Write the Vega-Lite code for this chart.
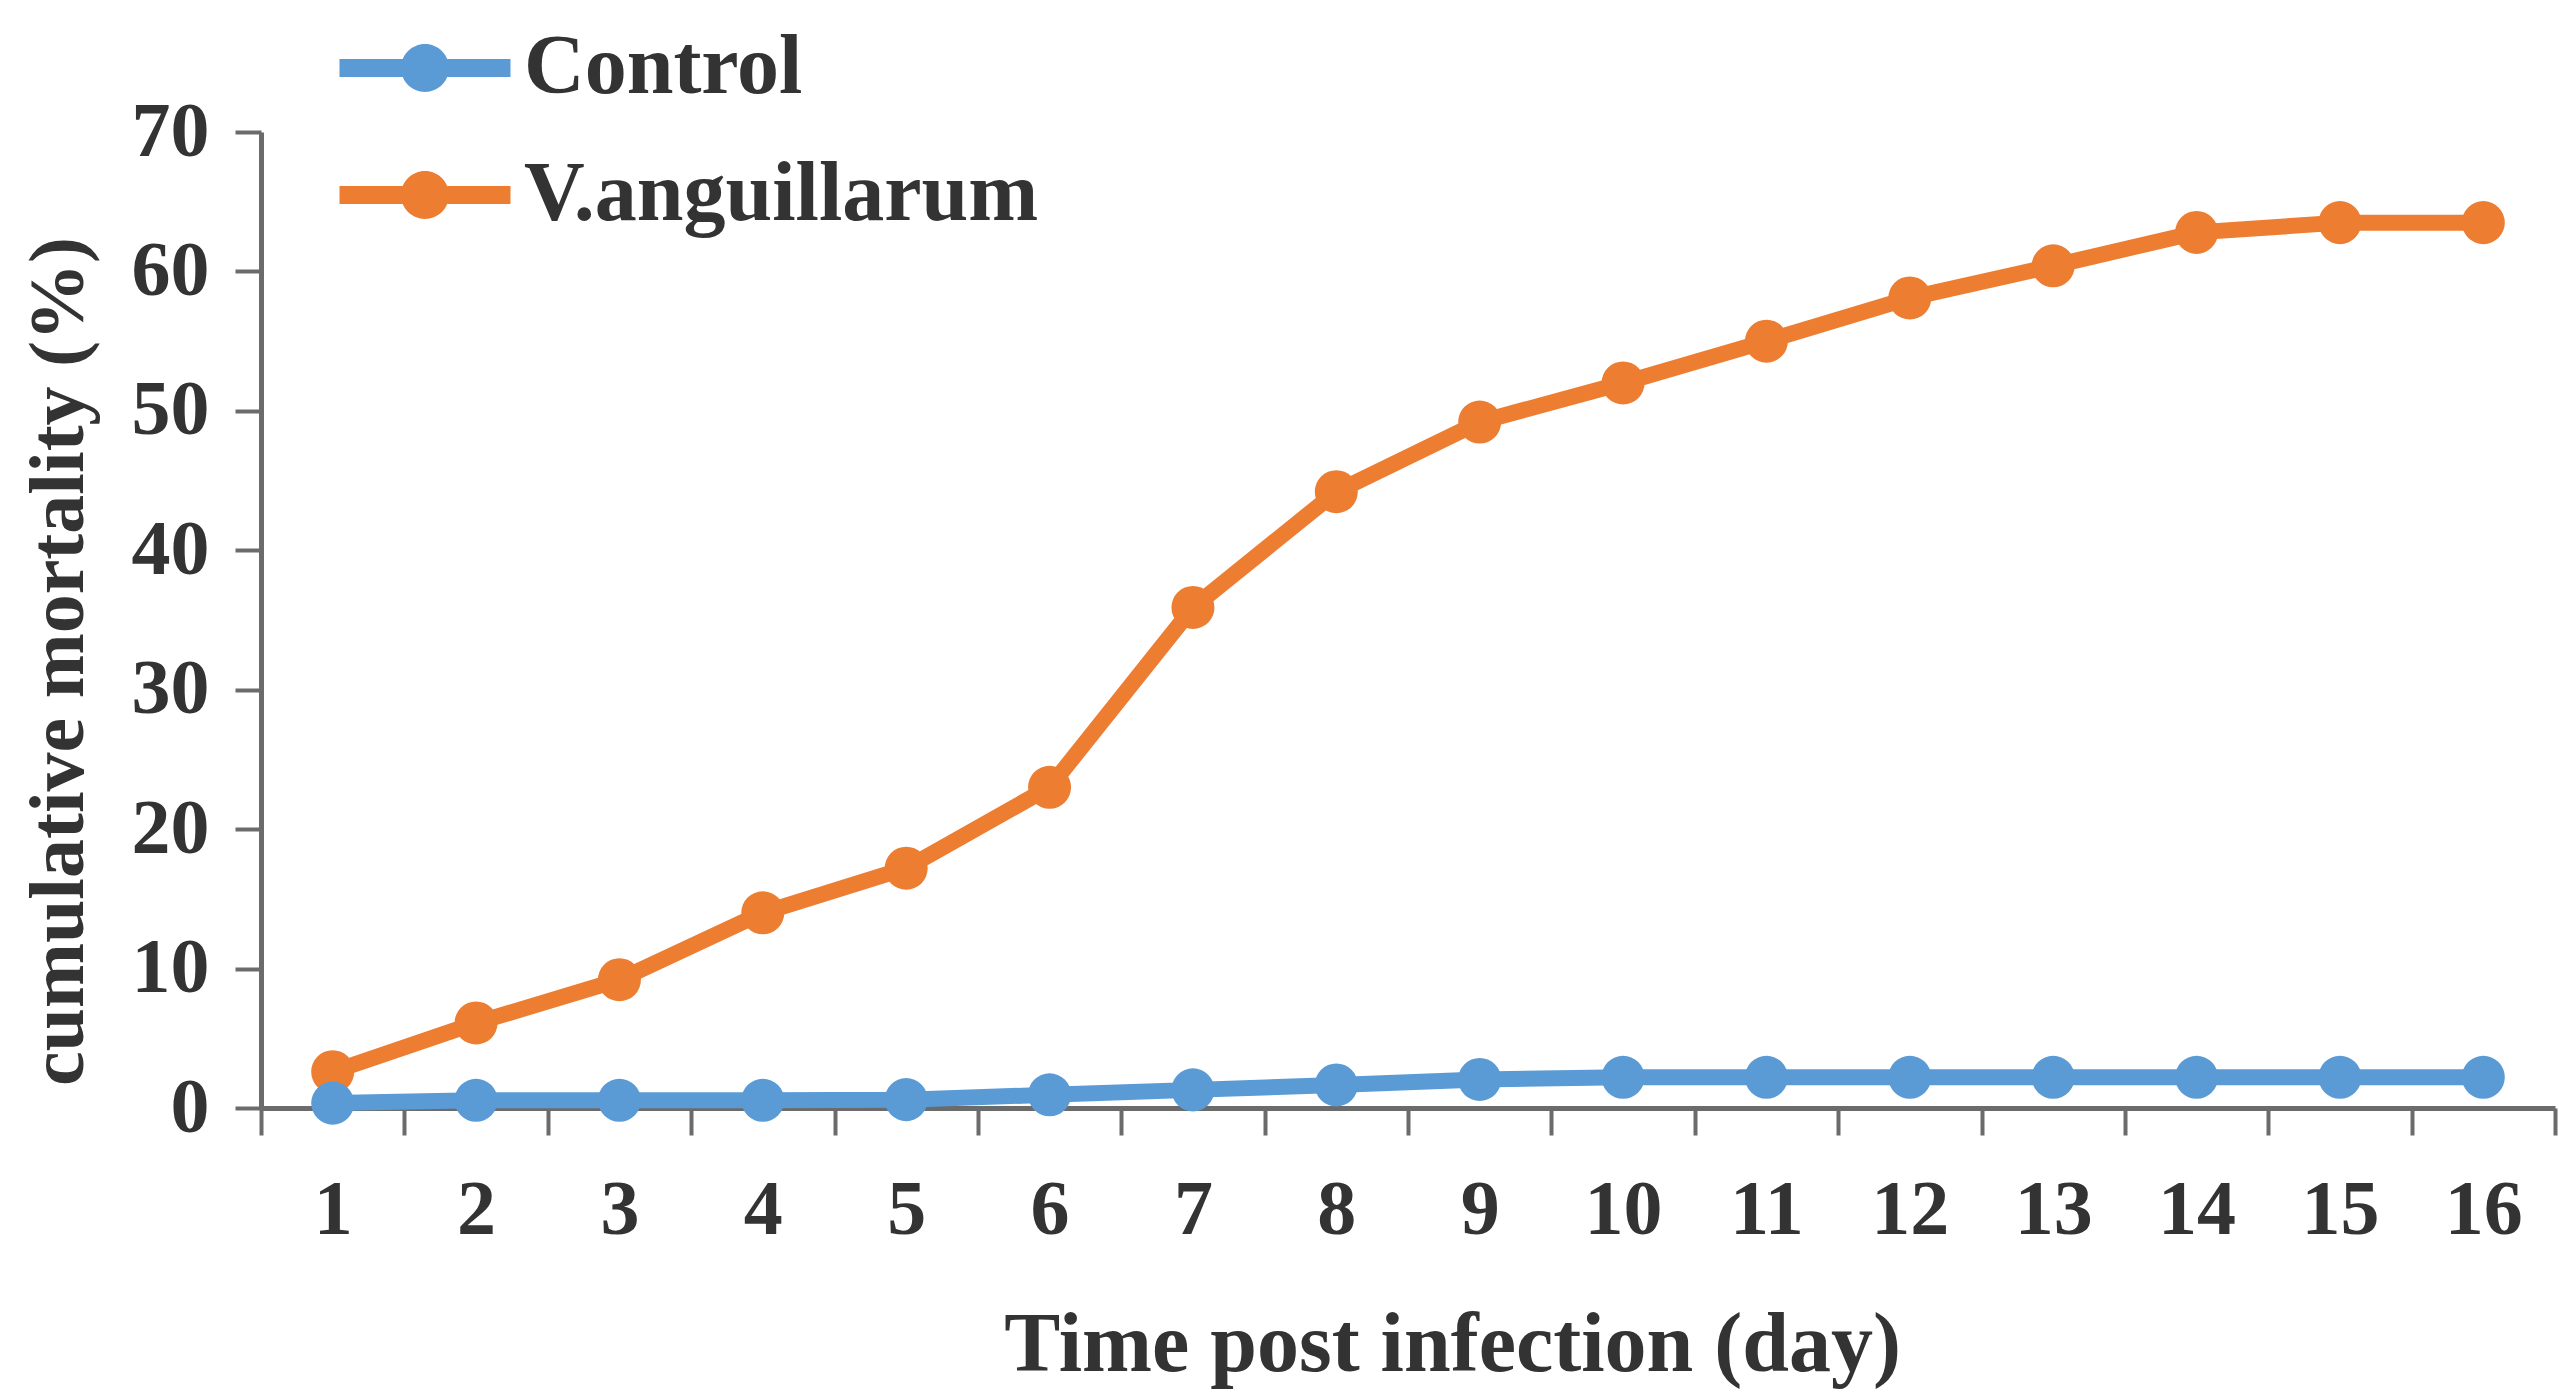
{
  "$schema": "https://vega.github.io/schema/vega-lite/v6.json",
  "autosize": "none",
  "width": 2294,
  "height": 976,
  "padding": {"left": 261, "top": 132, "right": 4, "bottom": 286},
  "background": "white",
  "data": {
    "values": [
      {"day": 1, "series": "Control", "value": 0.35},
      {"day": 2, "series": "Control", "value": 0.55},
      {"day": 3, "series": "Control", "value": 0.55},
      {"day": 4, "series": "Control", "value": 0.55},
      {"day": 5, "series": "Control", "value": 0.6},
      {"day": 6, "series": "Control", "value": 0.95},
      {"day": 7, "series": "Control", "value": 1.3},
      {"day": 8, "series": "Control", "value": 1.65},
      {"day": 9, "series": "Control", "value": 2.05},
      {"day": 10, "series": "Control", "value": 2.2},
      {"day": 11, "series": "Control", "value": 2.2},
      {"day": 12, "series": "Control", "value": 2.2},
      {"day": 13, "series": "Control", "value": 2.2},
      {"day": 14, "series": "Control", "value": 2.2},
      {"day": 15, "series": "Control", "value": 2.2},
      {"day": 16, "series": "Control", "value": 2.2},
      {"day": 1, "series": "V.anguillarum", "value": 2.6},
      {"day": 2, "series": "V.anguillarum", "value": 6.1},
      {"day": 3, "series": "V.anguillarum", "value": 9.2},
      {"day": 4, "series": "V.anguillarum", "value": 14.0},
      {"day": 5, "series": "V.anguillarum", "value": 17.2},
      {"day": 6, "series": "V.anguillarum", "value": 23.0},
      {"day": 7, "series": "V.anguillarum", "value": 35.9},
      {"day": 8, "series": "V.anguillarum", "value": 44.2},
      {"day": 9, "series": "V.anguillarum", "value": 49.2},
      {"day": 10, "series": "V.anguillarum", "value": 52.0},
      {"day": 11, "series": "V.anguillarum", "value": 55.0},
      {"day": 12, "series": "V.anguillarum", "value": 58.1},
      {"day": 13, "series": "V.anguillarum", "value": 60.4},
      {"day": 14, "series": "V.anguillarum", "value": 62.8},
      {"day": 15, "series": "V.anguillarum", "value": 63.5},
      {"day": 16, "series": "V.anguillarum", "value": 63.5}
    ]
  },
  "encoding": {
    "x": {
      "field": "day",
      "type": "ordinal",
      "scale": {"paddingInner": 0, "paddingOuter": 0},
      "axis": {
        "title": "Time post infection (day)",
        "labelAngle": 0,
        "tickBand": "extent",
        "tickSize": 27,
        "tickWidth": 4,
        "tickColor": "#6b6b6b",
        "domainColor": "#6b6b6b",
        "domainWidth": 5,
        "labelFont": "Liberation Serif",
        "labelFontWeight": "bold",
        "labelFontSize": 78,
        "labelColor": "#333333",
        "labelBaseline": "alphabetic",
        "labelPadding": 98,
        "titleFont": "Liberation Serif",
        "titleFontWeight": "bold",
        "titleFontSize": 84,
        "titleColor": "#333333",
        "titleBaseline": "alphabetic",
        "titleAlign": "center",
        "titleAnchor": "start",
        "titleX": 1191,
        "titleY": 262
      }
    },
    "y": {
      "field": "value",
      "type": "quantitative",
      "scale": {"domain": [0, 70], "nice": false},
      "axis": {
        "title": "cumulative mortality (%)",
        "values": [0, 10, 20, 30, 40, 50, 60, 70],
        "grid": false,
        "tickSize": 26,
        "tickWidth": 4,
        "tickColor": "#6b6b6b",
        "domainColor": "#6b6b6b",
        "domainWidth": 5,
        "labelFont": "Liberation Serif",
        "labelFontWeight": "bold",
        "labelFontSize": 78,
        "labelColor": "#333333",
        "labelPadding": 26,
        "titleFont": "Liberation Serif",
        "titleFontWeight": "bold",
        "titleFontSize": 78,
        "titleColor": "#333333",
        "titleAngle": -90,
        "titleBaseline": "alphabetic",
        "titleAlign": "center",
        "titleAnchor": "start",
        "titleX": -179,
        "titleY": 529
      }
    },
    "color": {
      "field": "series",
      "type": "nominal",
      "scale": {"domain": ["Control", "V.anguillarum"], "range": ["#5B9BD5", "#ED7D31"]},
      "legend": {
        "title": null,
        "orient": "none",
        "legendX": 121,
        "legendY": -107,
        "direction": "vertical",
        "padding": 0,
        "rowPadding": 42,
        "symbolType": "M-2,-0.21L2,-0.21L2,0.21L-2,0.21Z M-0.56,0A0.56,0.56 0 1,1 0.56,0A0.56,0.56 0 1,1 -0.56,0Z",
        "symbolSize": 7310,
        "symbolStrokeWidth": 0,
        "labelOffset": 56,
        "labelFont": "Liberation Serif",
        "labelFontWeight": "bold",
        "labelFontSize": 84,
        "labelColor": "#333333",
        "labelLimit": 1000,
        "encode": {
          "symbols": {"update": {"fill": {"scale": "color", "field": "value"}, "stroke": {"value": "transparent"}, "opacity": {"value": 1}}}
        }
      }
    }
  },
  "layer": [
    {
      "transform": [{"filter": "datum.series === 'V.anguillarum'"}],
      "mark": {"type": "line", "strokeWidth": 16, "point": {"filled": true, "size": 1850, "opacity": 1}}
    },
    {
      "transform": [{"filter": "datum.series === 'Control'"}],
      "mark": {"type": "line", "strokeWidth": 16, "point": {"filled": true, "size": 1850, "opacity": 1}}
    }
  ],
  "config": {"view": {"stroke": null}}
}
